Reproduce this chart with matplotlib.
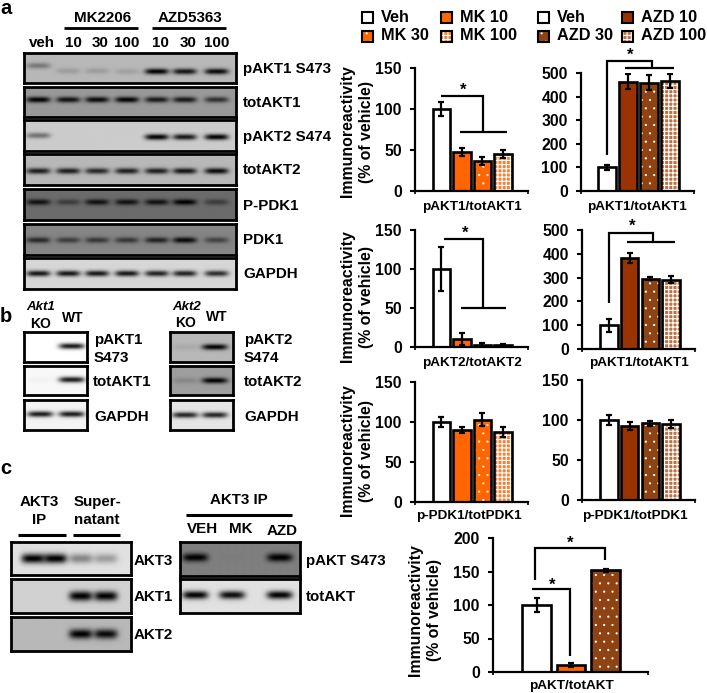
import matplotlib
matplotlib.use('Agg')

import numpy as np
from matplotlib import pyplot as plt
from matplotlib import hatch as mhatch
from matplotlib.patches import Rectangle

W, H = 707, 693
plt.rcParams['font.family'] = ['Liberation Sans', 'DejaVu Sans']
plt.rcParams['font.weight'] = 'bold'
plt.rcParams['hatch.linewidth'] = 0.8
# the dots in the reference are finer than the default '.' hatch
mhatch.SmallFilledCircles.size = 0.065

# bar values
mk_vals_akt1 = [100, 47, 36, 45]
mk_errs_akt1 = [9, 5, 5, 5]
azd_vals_akt1 = [100, 465, 460, 467]
azd_errs_akt1 = [10, 30, 33, 30]
mk_vals_akt2 = [100, 10, 3, 2]
mk_errs_akt2 = [28, 8, 2, 1.5]
azd_vals_akt2 = [100, 383, 296, 292]
azd_errs_akt2 = [27, 22, 8, 15]
mk_vals_pdk = [100, 90, 103, 87]
mk_errs_pdk = [6, 4, 8, 6]
azd_vals_pdk = [100, 93, 96, 95]
azd_errs_pdk = [6, 5, 3, 5]
ip_vals = [100, 10, 152]
ip_errs = [11, 3, 2]

# fill, hatch
VEH = ('white', None)
MK10 = ('#ff6600', None)
MK30 = ('#ff6600', '..')
MK100 = ('#f0843c', '++++')
AZD10 = ('#993300', None)
AZD30 = ('#8f4212', '..')
AZD100 = ('#bb7142', '++++')

# band strengths per lane
a_rows = ['pAKT1 S473', 'totAKT1', 'pAKT2 S474', 'totAKT2', 'P-PDK1', 'PDK1', 'GAPDH']
a_bg = [.72, .6, .8, .72, .42, .52, .84]
a_bands = [[.35, .15, .15, .12, 1, .9, .95],
           [1, .9, .95, 1, .85, .85, .7],
           [.45, 0, 0, 0, 1, .9, 1],
           [.85, .85, .8, .85, .85, .9, .95],
           [.85, .45, .85, .85, .85, 1, .45],
           [.7, .55, .6, .6, .75, .95, .5],
           [.9, .9, .9, .9, .85, .85, .8]]
a_band_y = [[.42, .6, .6, .62, .62, .62, .62], .42, [.5, .55, .55, .55, .55, .55, .55],
            .55, .42, .52, .5]
a_y = [(53, 83), (87, 117), (120, 151), (154, 185), (189, 220), (224, 255), (258, 289)]
a_lanes = [38, 68, 97, 127, 157, 185, 217]
a_head = ['veh', '10', '30', '100', '10', '30', '100']
a_head_x = [42, 73, 100, 127, 160, 188, 217]

b_y = [(332, 362), (366, 395), (400, 430)]
b1_bg = [1.0, .97, .95]
b1_bands = [[0, .9], [.02, .9], [.9, .9]]
b2_bg = [.72, .62, .9]
b2_bands = [[.08, 1], [.15, 1], [.85, .85]]

c1_y = [(542, 575), (579, 613), (617, 651)]
c1_bg = [.88, .82, .72]
c1_bands = [[1, 1, .4, .3], [0, 0, 1, 1], [0, 0, 1, .95]]
c2_y = [(542, 576), (579, 613)]
c2_bg = [.5, .88]
c2_bands = [[1, .03, 1], [1, .95, 1]]


fig = plt.figure(figsize=(W / 100, H / 100), dpi=100)


def ax_px(x0, y0, x1, y1):
    return fig.add_axes([x0 / W, 1 - y1 / H, (x1 - x0) / W, (y1 - y0) / H])


overlay = ax_px(0, 0, W, H)
overlay.set_xlim(0, W)
overlay.set_ylim(H, 0)
overlay.axis('off')
overlay.set_zorder(10)


def label(x, y, s, size=10.9, ha='left', **kw):
    overlay.text(x, y, s, fontsize=size, ha=ha, va='center', **kw)


def line(points, lw=1.6):
    xs, ys = zip(*points)
    overlay.plot(xs, ys, color='black', lw=lw, solid_joinstyle='miter', solid_capstyle='butt')


def blot(x0, x1, y0, y1, bg, lanes, bands, band_y=.5, band_w=12.0, band_h=3.0):
    xx, yy = np.meshgrid(np.arange(x0, x1 + 1.0), np.arange(y0, y1 + 1.0))
    img = np.full(xx.shape, float(bg))
    ys = np.broadcast_to(band_y, (len(lanes),))
    for lane, s, fy in zip(lanes, bands, ys):
        cy = y0 + fy * (y1 - y0)
        g = np.exp(-((xx - lane) / band_w) ** 4) * np.exp(-((yy - cy) / band_h) ** 2)
        img *= 1 - s * g
    ax = ax_px(x0, y0, x1, y1)
    ax.imshow(img, cmap='gray', vmin=0, vmax=1, aspect='auto', interpolation='bilinear')
    ax.set_xticks([])
    ax.set_yticks([])
    for sp in ax.spines.values():
        sp.set_linewidth(2.0)


def bars(box, vals, errs, styles, ymax, yticks, first, unit, err_lw=1.6):
    x0, y0, x1, y1 = box
    ax = ax_px(x0, y0, x1, y1)
    xs = np.arange(len(vals))
    for x, v, e, (fill, hatch) in zip(xs, vals, errs, styles):
        ax.bar(x, v, 0.84, color=fill, hatch=hatch, edgecolor='white', linewidth=0)
        ax.bar(x, v, 0.84, fill=False, edgecolor='black', linewidth=1.9)
        ax.errorbar(x, v, yerr=e, color='black', capsize=2.4, elinewidth=err_lw, capthick=err_lw)
    ax.set_xlim(-first / unit, (x1 - x0 - first) / unit)
    ax.set_ylim(0, ymax)
    ax.set_yticks(yticks)
    ax.set_xticks(ax.get_xlim())
    ax.set_xticklabels([])
    ax.tick_params(axis='y', labelsize=11.3, width=1.5, length=3.5, pad=6)
    ax.tick_params(axis='x', width=1.2, length=2)
    ax.spines['top'].set_visible(False)
    ax.spines['right'].set_visible(False)
    ax.spines['left'].set_linewidth(1.6)
    ax.spines['bottom'].set_linewidth(1.6)
    ax.patch.set_alpha(0)
    return ax


# panel a blots
label(0, 8, 'a', size=14.5)
label(103, 18, 'MK2206', ha='center')
label(190, 18, 'AZD5363', ha='center')
line([(64, 28), (138, 28)], 2.0)
line([(152, 28), (226, 28)], 2.0)
for x, s in zip(a_head_x, a_head):
    label(x, 43, s, ha='center')
for (y0, y1), bg, b, by, name in zip(a_y, a_bg, a_bands, a_band_y, a_rows):
    blot(24, 236, y0, y1, bg, a_lanes, b, band_y=by)
    label(243, (y0 + y1) / 2 + 1, name)

# panel b blots
label(0, 317, 'b', size=14.5)
label(41, 307, 'Akt1', size=9.5, ha='center', style='italic')
label(41, 324, 'KO', size=10, ha='center')
label(73, 318, 'WT', size=10, ha='center')
label(187, 307, 'Akt2', size=9.5, ha='center', style='italic')
label(186, 323, 'KO', size=10, ha='center')
label(217, 317, 'WT', size=10, ha='center')
for (y0, y1), bg, b in zip(b_y, b1_bg, b1_bands):
    blot(24, 87, y0, y1, bg, [40, 72], b, band_y=.47, band_w=13)
for (y0, y1), bg, b in zip(b_y, b2_bg, b2_bands):
    blot(170, 233, y0, y1, bg, [185, 215], b, band_y=.5, band_w=13)
label(94, 340, 'pAKT1')
label(94, 358, 'S473')
label(93, 382, 'totAKT1')
label(94, 417, 'GAPDH')
label(244, 340, 'pAKT2')
label(244, 358, 'S474')
label(244, 382, 'totAKT2')
label(244, 417, 'GAPDH')

# panel c blots
label(0, 468, 'c', size=14.5)
label(39, 502, 'AKT3', ha='center')
label(39, 520, 'IP', ha='center')
label(97, 502, 'Super-', ha='center')
label(97, 520, 'natant', ha='center')
line([(18, 535), (66, 535)], 2.2)
line([(73, 535), (120, 535)], 2.2)
for (y0, y1), bg, b in zip(c1_y, c1_bg, c1_bands):
    blot(11, 131, y0, y1, bg, [33, 55, 81, 106], b, band_y=.5, band_w=12, band_h=5)
label(134, 561, 'AKT3')
label(134, 597, 'AKT1')
label(134, 635, 'AKT2')
label(239, 500, 'AKT3 IP', ha='center')
line([(186, 515), (292, 515)], 2.2)
label(202, 529, 'VEH', ha='center')
label(241, 529, 'MK', ha='center')
label(282, 531, 'AZD', ha='center')
for (y0, y1), bg, b in zip(c2_y, c2_bg, c2_bands):
    blot(180, 300, y0, y1, bg, [195, 232, 280], b, band_y=.47, band_w=13, band_h=4.2)
label(306, 561, 'pAKT S473')
label(306, 597, 'totAKT')

# bar charts
mk_styles = [VEH, MK10, MK30, MK100]
azd_styles = [VEH, AZD10, AZD30, AZD100]
bars((415, 68, 528, 190.7), mk_vals_akt1, mk_errs_akt1, mk_styles, 150, [0, 50, 100, 150], 26.5, 20.5)
bars((581, 73.3, 694, 190.7), azd_vals_akt1, azd_errs_akt1, azd_styles, 500, range(0, 501, 100), 26, 21)
bars((415, 230, 528, 347), mk_vals_akt2, mk_errs_akt2, mk_styles, 150, [0, 50, 100, 150], 26.5, 20.5)
bars((582, 230, 695, 349), azd_vals_akt2, azd_errs_akt2, azd_styles, 500, range(0, 501, 100), 27, 20.7)
bars((415, 382, 528, 501.7), mk_vals_pdk, mk_errs_pdk, mk_styles, 150, [0, 50, 100, 150], 26.5, 20.5)
bars((582, 380, 695, 500), azd_vals_pdk, azd_errs_pdk, azd_styles, 150, [0, 50, 100, 150], 27, 20.7)
bars((493, 538, 648, 672), ip_vals, ip_errs, [VEH, MK10, AZD30], 200, range(0, 201, 50), 43.5, 34.5)

# axis titles
for y in [131, 296, 450]:
    label(347, y, 'Immunoreactivity', size=11.4, ha='center', rotation=90)
    label(367, y + 1, '(% of vehicle)', size=11.4, ha='center', rotation=90)
label(415, 610, 'Immunoreactivity', size=11.4, ha='center', rotation=90)
label(435, 610, '(% of vehicle)', size=11.4, ha='center', rotation=90)

label(472, 207, 'pAKT1/totAKT1', size=9.7, ha='center')
label(637, 207, 'pAKT1/totAKT1', size=9.7, ha='center')
label(472, 363, 'pAKT2/totAKT2', size=9.7, ha='center')
label(639, 363, 'pAKT1/totAKT1', size=9.7, ha='center')
label(469, 516, 'p-PDK1/totPDK1', size=9.7, ha='center')
label(635, 516, 'p-PDK1/totPDK1', size=9.7, ha='center')
label(571, 686, 'pAKT/totAKT', size=9.7, ha='center')

# significance brackets
line([(441, 96), (483, 96), (483, 131)])
line([(460, 132), (507, 132)])
label(463, 90, '*', size=12, ha='center')
line([(607, 155), (607, 61), (652, 61), (652, 68)])
line([(625, 68), (674, 68)])
label(630, 55, '*', size=12, ha='center')
line([(444, 239), (483, 239), (483, 308)])
line([(461, 308), (506, 308)])
label(465, 233, '*', size=12, ha='center')
line([(609, 303), (609, 233), (653, 233), (653, 242)])
line([(627, 242), (675, 242)])
label(632, 226, '*', size=12, ha='center')
line([(535, 580), (535, 548), (605, 548), (605, 560)])
label(570, 543, '*', size=12, ha='center')
line([(532, 589), (570, 589), (570, 656)])
label(552, 585, '*', size=12, ha='center')

# legend
legend_items = [(362, 17, 'Veh', VEH), (441, 17, 'MK 10', MK10),
                (362, 36, 'MK 30', MK30), (441, 36, 'MK 100', MK100),
                (538, 17, 'Veh', VEH), (622, 17, 'AZD 10', AZD10),
                (538, 36, 'AZD 30', AZD30), (622, 36, 'AZD 100', AZD100)]
for x, y, s, (fill, hatch) in legend_items:
    overlay.add_patch(Rectangle((x, y - 5.5), 11, 11, facecolor=fill, hatch=hatch,
                                edgecolor='white', linewidth=0))
    overlay.add_patch(Rectangle((x, y - 5.5), 11, 11, fill=False, edgecolor='black', linewidth=1.5))
    label(x + 19, y, s, size=11.7)

fig.savefig('out.png', dpi=100)
